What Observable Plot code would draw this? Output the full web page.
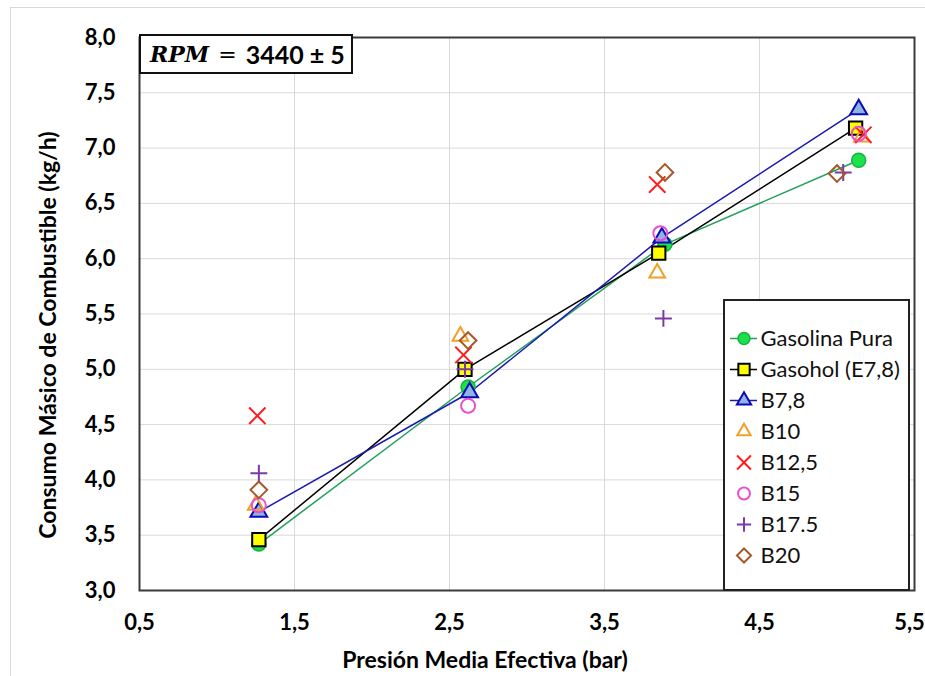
<!DOCTYPE html>
<html>
<head>
<meta charset="utf-8">
<script src="https://cdn.jsdelivr.net/npm/d3@7"></script>
<script src="https://cdn.jsdelivr.net/npm/@observablehq/plot@0.6"></script>
<style>
  html, body { margin: 0; padding: 0; background: #fff; }
  #wrap { position: relative; width: 925px; height: 676px; overflow: hidden; font-family: Lato, "Open Sans", sans-serif; }
  #outer { position: absolute; left: 10px; top: 7px; width: 930px; height: 700px; border-left: 1px solid #d9d9d9; border-top: 1px solid #d9d9d9; }
  #chart { position: absolute; left: 0; top: 0; }
  #rpm { position: absolute; left: 139px; top: 34px; width: 214px; height: 40px; box-sizing: border-box; border: 2px solid #111; background: #fff;
         display: flex; align-items: center; padding-left: 9px; font-size: 22px; font-weight: bold; white-space: nowrap; }
  #rpm .m { font-family: "DejaVu Serif", serif; font-style: italic; font-weight: bold; }
  #rpm .eq { font-family: "DejaVu Serif", serif; font-weight: normal; margin: 0 9px 0 9px; }
  #rpm .n { font-family: Lato, sans-serif; font-weight: bold; font-size: 25px; }
  #legend { position: absolute; left: 723px; top: 299px; width: 187px; height: 292px; box-sizing: border-box; border: 2px solid #222; background: #fff; }
  #legend svg { display: block; }
</style>
</head>
<body>
<div id="wrap">
  <div id="outer"></div>
  <div id="chart"></div>
  <div id="rpm"><span class="m">RPM</span><span class="eq">=</span><span class="n">3440 ± 5</span></div>
  <div id="legend"></div>
</div>
<script>
// ---- data ----
const seriesNames = ["Gasolina Pura", "Gasohol (E7,8)", "B7,8", "B10", "B12,5", "B15", "B17.5", "B20"];

const pmeGasolina = [1.27, 2.62, 3.89, 5.14];
const consumoGasolina = [3.42, 4.84, 6.13, 6.89];

const pmeGasohol = [1.27, 2.60, 3.85, 5.12];
const consumoGasohol = [3.46, 5.00, 6.05, 7.18];

const pmeB78 = [1.27, 2.63, 3.87, 5.14];
const consumoB78 = [3.71, 4.79, 6.19, 7.35];

const pmeB10 = [1.25, 2.57, 3.84, 5.16];
const consumoB10 = [3.77, 5.30, 5.87, 7.10];

const pmeB125 = [1.26, 2.59, 3.84, 5.17];
const consumoB125 = [4.58, 5.13, 6.67, 7.12];

const pmeB15 = [1.27, 2.62, 3.86, 5.14];
const consumoB15 = [3.77, 4.67, 6.23, 7.13];

const pmeB175 = [1.27, 2.60, 3.88, 5.04];
const consumoB175 = [4.06, 5.00, 5.46, 6.78];

const pmeB20 = [1.27, 2.62, 3.89, 5.00];
const consumoB20 = [3.91, 5.26, 6.78, 6.77];

const xTicks = [0.5, 1.5, 2.5, 3.5, 4.5, 5.5];
const yTicks = [3.0, 3.5, 4.0, 4.5, 5.0, 5.5, 6.0, 6.5, 7.0, 7.5, 8.0];

const xLabel = "Presión Media Efectiva (bar)";
const yLabel = "Consumo Másico de Combustible (kg/h)";

// ---- build table ----
const seriesX = [pmeGasolina, pmeGasohol, pmeB78, pmeB10, pmeB125, pmeB15, pmeB175, pmeB20];
const seriesY = [consumoGasolina, consumoGasohol, consumoB78, consumoB10, consumoB125, consumoB15, consumoB175, consumoB20];
const rows = seriesNames.flatMap((name, i) => seriesX[i].map((x, j) => ({ name, x, y: seriesY[i][j] })));

// ---- styles ----
const styles = {
  "Gasolina Pura":  { symbol: "circle",   r: 7,   fill: "#1be24a", stroke: "#16b043", sw: 1.5, line: "#22a05a" },
  "Gasohol (E7,8)": { symbol: "square",   r: 7.5, fill: "#ffff00", stroke: "#000000", sw: 2,   line: "#000000" },
  "B7,8":           { symbol: "triangle2",r: 8,   fill: "#8fb4e3", stroke: "#0a0ab8", sw: 2,   line: "#1a1ab0" },
  "B10":            { symbol: "triangle2",r: 7.5, fill: "none",    stroke: "#f0a028", sw: 2 },
  "B12,5":          { symbol: "times",    r: 7.5, fill: "none",    stroke: "#ff1c1c", sw: 2 },
  "B15":            { symbol: "circle",   r: 7,   fill: "none",    stroke: "#e84fcf", sw: 2 },
  "B17.5":          { symbol: "plus",     r: 5.5, fill: "none",    stroke: "#7a3aa5", sw: 2 },
  "B20":            { symbol: "diamond2", r: 7.5, fill: "none",    stroke: "#a5582a", sw: 2 }
};

const fmt = d => d.toFixed(1).replace(".", ",");
const tickFont = 22;

const marks = [
  Plot.gridY(yTicks, { stroke: "#d9d9d9", strokeOpacity: 1, strokeWidth: 1 }),
  Plot.gridX(xTicks, { stroke: "#d9d9d9", strokeOpacity: 1, strokeWidth: 1 })
];
for (const name of seriesNames) {
  const s = styles[name];
  const data = rows.filter(d => d.name === name);
  if (s.line) marks.push(Plot.line(data, { x: "x", y: "y", stroke: s.line, strokeWidth: 1.5 }));
}
for (const name of seriesNames) {
  const s = styles[name];
  const data = rows.filter(d => d.name === name);
  marks.push(Plot.dot(data, { x: "x", y: "y", symbol: () => s.symbol, r: s.r, fill: s.fill, stroke: s.stroke, strokeWidth: s.sw }));
}
marks.push(Plot.frame({ stroke: "#3a3a3a", strokeWidth: 2 }));
marks.push(Plot.axisY(yTicks, { tickSize: 0, tickPadding: 24, tickFormat: fmt, fontSize: tickFont, fontWeight: "bold", label: null }));
marks.push(Plot.axisX(xTicks.slice(0, -1), { tickSize: 0, tickPadding: 24, tickFormat: fmt, fontSize: tickFont, fontWeight: "bold", label: null }));
marks.push(Plot.axisX(xTicks.slice(-1), { tickSize: 0, tickPadding: 24, tickFormat: fmt, fontSize: tickFont, fontWeight: "bold", label: null, dx: -5 }));

const chart = Plot.plot({
  width: 925,
  height: 676,
  marginLeft: 139,
  marginRight: 11,
  marginTop: 37,
  marginBottom: 86,
  style: { fontFamily: "Lato, 'Open Sans', sans-serif", color: "#000", background: "transparent", overflow: "visible" },
  x: { domain: [0.5, 5.5] },
  y: { domain: [3.0, 8.0] },
  symbol: { type: "identity" },
  marks
});
document.getElementById("chart").appendChild(chart);

// axis titles as svg text in the chart's svg
const svg = d3.select(chart);
svg.append("text")
  .attr("x", 485).attr("y", 668)
  .attr("text-anchor", "middle")
  .attr("font-size", 23).attr("font-weight", "bold").attr("fill", "#000")
  .attr("font-family", "Lato, sans-serif")
  .text(xLabel);
svg.append("text")
  .attr("transform", "translate(56,335) rotate(-90)")
  .attr("text-anchor", "middle")
  .attr("font-size", 23).attr("font-weight", "bold").attr("fill", "#000")
  .attr("font-family", "Lato, sans-serif")
  .text(yLabel);

// ---- legend ----
const legendRows = seriesNames.map(name => ({ name }));
const legendMarks = [];
for (const name of seriesNames) {
  const s = styles[name];
  const d = [{ name }];
  if (s.line) legendMarks.push(Plot.ruleY(d, { y: "name", x1: () => 0, x2: () => 1, stroke: s.line, strokeWidth: 1.5 }));
  legendMarks.push(Plot.dot(d, { x: () => 0.5, y: "name", symbol: () => s.symbol, r: s.r * 0.85, fill: s.fill, stroke: s.stroke, strokeWidth: s.sw }));
}
legendMarks.push(Plot.text(legendRows, { x: () => 1, y: "name", text: "name", textAnchor: "start", dx: 3, fontSize: 22, fill: "#111" }));

const legend = Plot.plot({
  width: 183,
  height: 288,
  margin: 0,
  style: { fontFamily: "Lato, 'Open Sans', sans-serif", background: "transparent", overflow: "visible" },
  x: { domain: [0, 1], range: [5, 32], axis: null },
  y: { type: "point", domain: seriesNames, range: [18, 272], axis: null },
  symbol: { type: "identity" },
  marks: legendMarks
});
document.getElementById("legend").appendChild(legend);
</script>
</body>
</html>
